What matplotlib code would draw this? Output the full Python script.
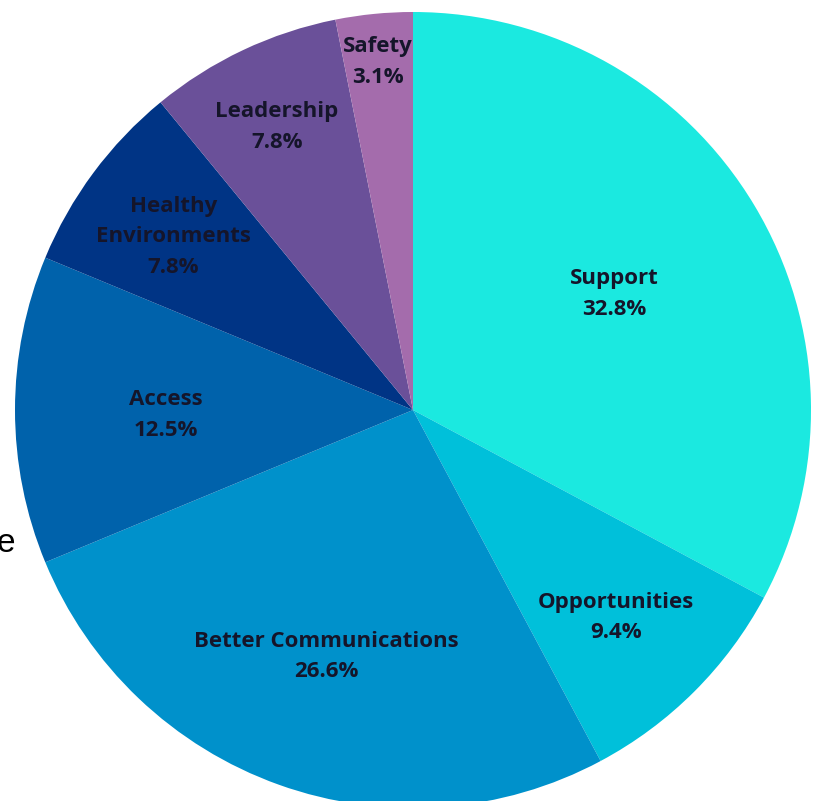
import numpy as np
from matplotlib import pyplot as plt

# slices, clockwise from 12 o'clock
labels = ['Support', 'Opportunities', 'Better Communications', 'Access',
          'Healthy\nEnvironments', 'Leadership', 'Safety']
counts = [21, 6, 17, 8, 5, 5, 2]
colors = ['#1be9e0', '#00c0da', '#0091cb', '#0062ab', '#003485', '#6a5099', '#a46cac']

# radial position of each label (fraction of radius)
label_r = [0.59, 0.72, 0.645, 0.62, 0.75, 0.80, 0.89]

W, H = 814, 801
fig = plt.figure(figsize=(W / 100, H / 100), dpi=100)
cx, cy, R = 413, 410, 398
ax = fig.add_axes([(cx - R) / W, (H - cy - R) / H, 2 * R / W, 2 * R / H])

wedges, _ = ax.pie(counts, colors=colors, startangle=90, counterclock=False,
                   radius=1, wedgeprops=dict(linewidth=0))

total = float(sum(counts))
for w, lab, c, r in zip(wedges, labels, counts, label_r):
  mid = np.deg2rad((w.theta1 + w.theta2) / 2)
  x, y = r * np.cos(mid), r * np.sin(mid) - 0.012
  ax.text(x, y, '%s\n%.1f%%' % (lab, 100 * c / total), ha='center', va='center',
          fontsize=16, fontweight='bold', family='Open Sans', color='#15152a',
          linespacing=1.6)

ax.set_xlim(-1, 1)
ax.set_ylim(-1, 1)
ax.set_aspect('equal')
ax.axis('off')

fig.text(-3 / W, 1 - 543 / H, 'e', fontsize=24, family='Liberation Sans',
         ha='left', va='center', color='black')

fig.savefig('out.png', dpi=100)
